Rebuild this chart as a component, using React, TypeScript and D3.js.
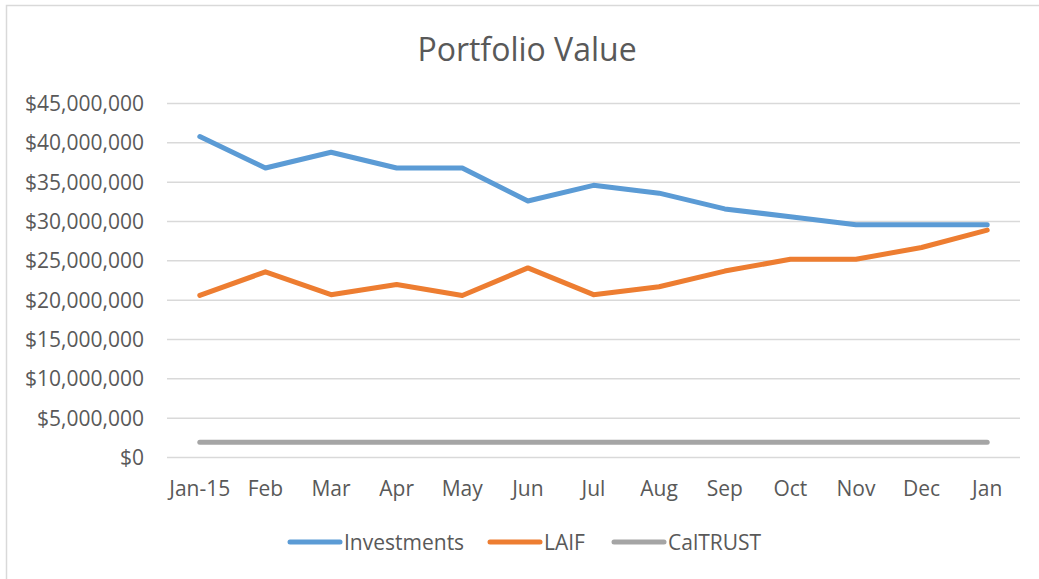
import React, { useEffect, useRef } from 'react';
import * as d3 from 'd3';

const months = ['Jan-15', 'Feb', 'Mar', 'Apr', 'May', 'Jun', 'Jul', 'Aug', 'Sep', 'Oct', 'Nov', 'Dec', 'Jan'];
const investments = [40.8, 36.8, 38.8, 36.8, 36.8, 32.6, 34.6, 33.6, 31.6, 30.6, 29.6, 29.6, 29.6];
const laif = [20.6, 23.6, 20.7, 22.0, 20.6, 24.1, 20.7, 21.7, 23.7, 25.2, 25.2, 26.7, 28.9];
const caltrust = [1.95, 1.95, 1.95, 1.95, 1.95, 1.95, 1.95, 1.95, 1.95, 1.95, 1.95, 1.95, 1.95];
const yTicks = [0, 5, 10, 15, 20, 25, 30, 35, 40, 45];
const seriesNames = ['Investments', 'LAIF', 'CalTRUST'];

function App() {
    const chartRef = useRef<SVGSVGElement>(null);

    useEffect(() => {
        const svg = d3.select(chartRef.current);
        svg.selectAll('*').remove();

        const width = 1039, height = 579;
        const margin = { top: 103.5, right: 19, bottom: 121.5, left: 167 };
        const font = "'Open Sans', sans-serif";
        const textColor = '#595959';
        const fontSize = 21;

        // outer chart border
        svg.append('rect')
            .attr('x', 6.5).attr('y', 5.5)
            .attr('width', width + 10).attr('height', height + 10)
            .attr('fill', '#fff')
            .attr('stroke', '#d9d9d9')
            .attr('stroke-width', 1.5);

        svg.append('text')
            .attr('x', 527).attr('y', 61)
            .attr('text-anchor', 'middle')
            .attr('font-family', font)
            .attr('font-size', 32)
            .attr('fill', textColor)
            .text('Portfolio Value');

        const x = d3.scaleBand()
            .domain(months)
            .range([margin.left, width - margin.right]);

        const y = d3.scaleLinear()
            .domain([0, 45])
            .range([height - margin.bottom, margin.top]);

        // gridlines
        svg.append('g')
            .selectAll('line')
            .data(yTicks)
            .enter().append('line')
            .attr('x1', margin.left)
            .attr('x2', width - margin.right)
            .attr('y1', d => y(d))
            .attr('y2', d => y(d))
            .attr('stroke', '#d9d9d9')
            .attr('stroke-width', 1.5);

        const fmt = d3.format(',.0f');
        svg.append('g')
            .selectAll('text')
            .data(yTicks)
            .enter().append('text')
            .attr('x', 144)
            .attr('y', d => y(d))
            .attr('dy', '0.36em')
            .attr('text-anchor', 'end')
            .attr('font-family', font)
            .attr('font-size', fontSize)
            .attr('fill', textColor)
            .text(d => '$' + fmt(d * 1000000));

        svg.append('g')
            .selectAll('text')
            .data(months)
            .enter().append('text')
            .attr('x', d => x(d)! + x.bandwidth() / 2)
            .attr('y', 496)
            .attr('text-anchor', 'middle')
            .attr('font-family', font)
            .attr('font-size', fontSize)
            .attr('fill', textColor)
            .text(d => d);

        const colors = d3.scaleOrdinal<string>()
            .domain(seriesNames)
            .range(['#5b9bd5', '#ed7d31', '#a5a5a5']);

        const series = [
            { name: 'CalTRUST', values: caltrust },
            { name: 'LAIF', values: laif },
            { name: 'Investments', values: investments },
        ];

        const line = d3.line<number>()
            .x((_, i) => x(months[i])! + x.bandwidth() / 2)
            .y(d => y(d));

        svg.append('g')
            .selectAll('path')
            .data(series)
            .enter().append('path')
            .attr('d', d => line(d.values))
            .attr('fill', 'none')
            .attr('stroke', d => colors(d.name))
            .attr('stroke-width', 5)
            .attr('stroke-linecap', 'round')
            .attr('stroke-linejoin', 'round');

        // legend
        const legendX = [288, 488, 612];
        const legend = svg.append('g')
            .selectAll('g')
            .data(seriesNames)
            .enter().append('g')
            .attr('transform', (_, i) => 'translate(' + legendX[i] + ',542)');

        legend.append('line')
            .attr('x1', 2).attr('x2', 52)
            .attr('stroke', d => colors(d))
            .attr('stroke-width', 5)
            .attr('stroke-linecap', 'round');

        legend.append('text')
            .attr('x', 56)
            .attr('dy', '0.36em')
            .attr('font-family', font)
            .attr('font-size', fontSize)
            .attr('fill', textColor)
            .text(d => d);
    }, []);

    return (
        <svg ref={chartRef} width={1039} height={579} style={{ position: 'absolute', left: 0, top: 0 }}></svg>
    );
}

export default App;
